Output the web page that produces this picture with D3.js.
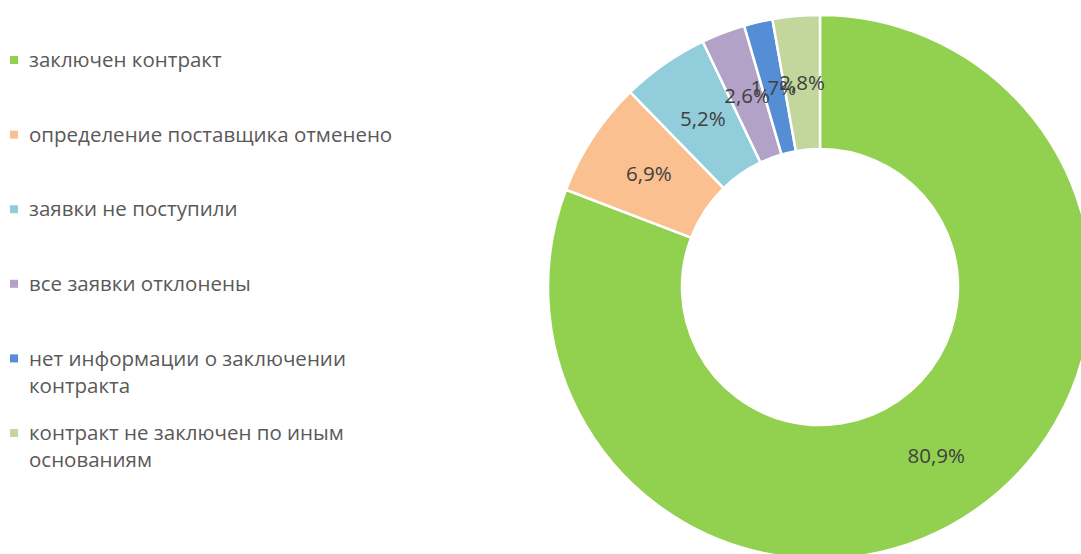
<!DOCTYPE html>
<html>
<head>
<meta charset="utf-8">
<script src="https://cdn.jsdelivr.net/npm/d3@7"></script>
<style>
  body { margin: 0; background: #fff; }
  svg { display: block; font-family: "Open Sans", sans-serif; }
</style>
</head>
<body>
<svg id="chart" width="1081" height="554"></svg>
<script>
const categories = [
  "заключен контракт",
  "определение поставщика отменено",
  "заявки не поступили",
  "все заявки отклонены",
  "нет информации о заключении контракта",
  "контракт не заключен по иным основаниям"
];
const values = [80.9, 6.9, 5.2, 2.6, 1.7, 2.8];
const labels = ["80,9%", "6,9%", "5,2%", "2,6%", "1,7%", "2,8%"];
const colors = ["#92D050", "#FAC090", "#92CDDC", "#B2A2C7", "#558ED5", "#C3D69B"];

const svg = d3.select("#chart");
const cx = 820, cy = 287, outerR = 272, innerR = 138;

const pie = d3.pie().value(d => d).sort(null);
const arcs = pie(values);
const arc = d3.arc().innerRadius(innerR).outerRadius(outerR);

const g = svg.append("g").attr("transform", `translate(${cx},${cy})`);
g.selectAll("path").data(arcs).enter().append("path")
  .attr("d", arc)
  .attr("fill", (d, i) => colors[i])
  .attr("stroke", "#fff").attr("stroke-width", 2.5);

g.selectAll("text").data(arcs).enter().append("text")
  .attr("x", d => arc.centroid(d)[0])
  .attr("y", d => arc.centroid(d)[1])
  .attr("dy", "0.35em")
  .attr("text-anchor", "middle")
  .attr("font-size", "20.5px")
  .attr("fill", "#404040")
  .text((d, i) => labels[i]);

// legend
const legendY = d3.scalePoint().domain(d3.range(categories.length)).range([60, 433]);
const legend = svg.append("g");
categories.forEach((c, i) => {
  const y = legendY(i);
  legend.append("rect").attr("x", 10).attr("y", y - 4).attr("width", 8).attr("height", 8).attr("fill", colors[i]);
  const t = legend.append("text").attr("x", 29).attr("y", y).attr("dy", "0.35em")
    .attr("font-size", "20.5px").attr("fill", "#595959");
  // wrap
  const words = c.split(" ");
  let line = [];
  let tspan = t.append("tspan").attr("x", 29);
  words.forEach(w => {
    line.push(w);
    tspan.text(line.join(" "));
    if (tspan.node().getComputedTextLength() > 380 && line.length > 1) {
      line.pop();
      tspan.text(line.join(" "));
      line = [w];
      tspan = t.append("tspan").attr("x", 29).attr("dy", "27px").text(w);
    }
  });
});
</script>
</body>
</html>
